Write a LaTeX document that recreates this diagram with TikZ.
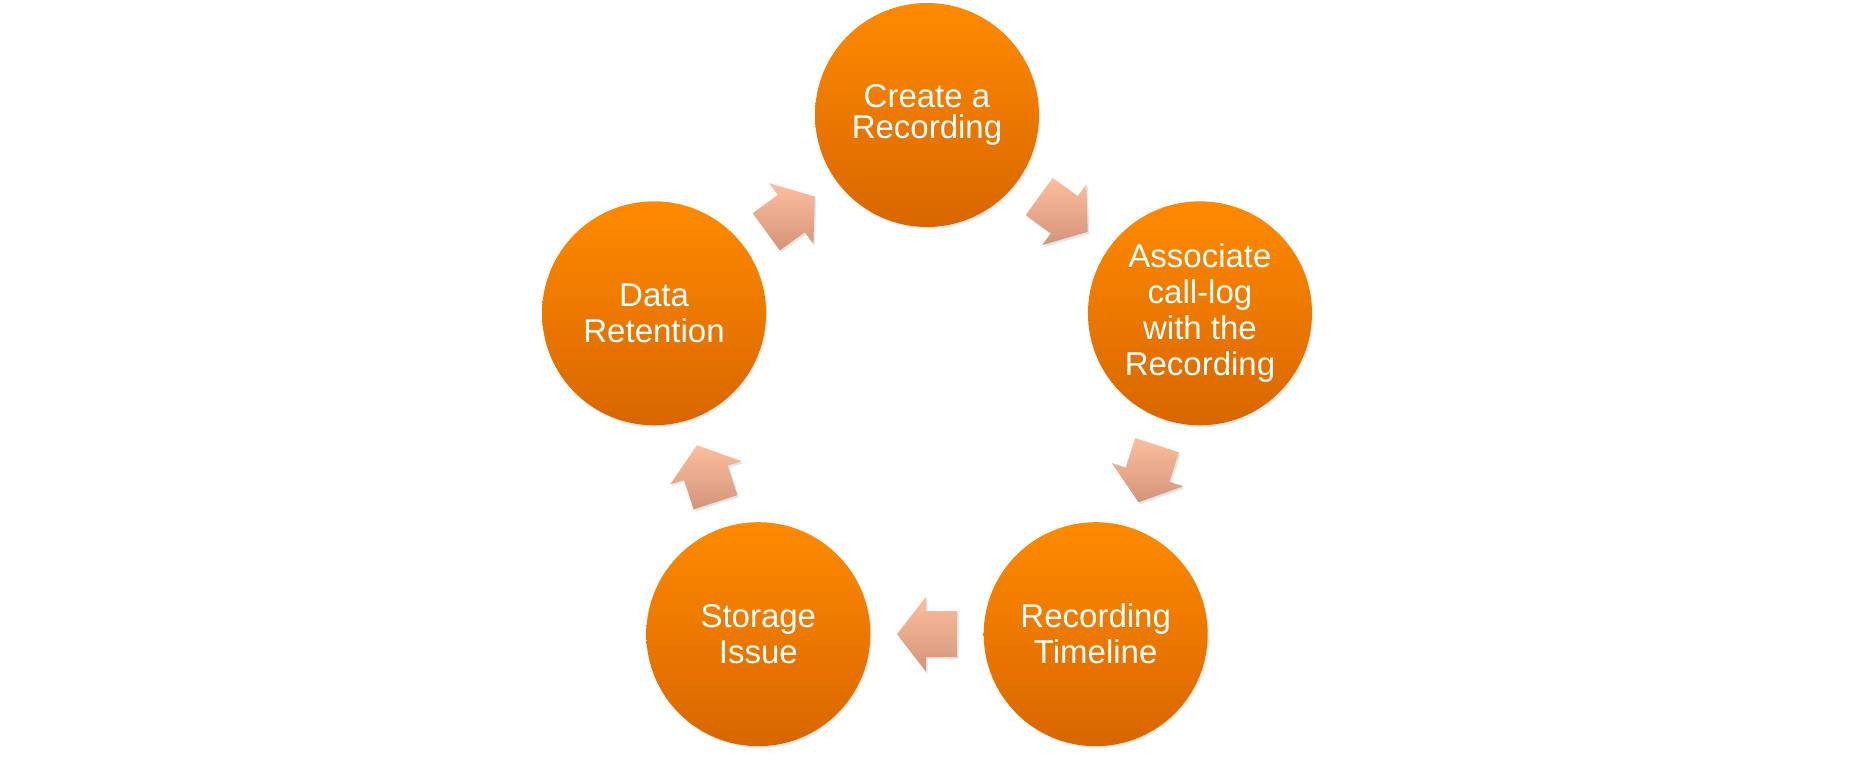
\documentclass[tikz,border=0pt]{standalone}
\usepackage{fontspec}
\setmainfont{Liberation Sans}
\usetikzlibrary{calc,shadows}
\definecolor{stagetop}{RGB}{255,138,0}
\definecolor{stagebot}{RGB}{216,102,0}
\definecolor{turntop}{RGB}{252,190,158}
\definecolor{turnbot}{RGB}{212,148,122}

\tikzset{
  stage/.style={circle, minimum size=224pt, inner sep=0pt, top color=stagetop, bottom color=stagebot,
    text=white, align=center, font=\fontsize{33}{36}\selectfont,
    drop shadow={opacity=0.15, shadow xshift=1.5pt, shadow yshift=-2pt}},
  turnshade/.style={top color=turntop, bottom color=turnbot,
    drop shadow={opacity=0.2, shadow xshift=1.5pt, shadow yshift=-2pt}},
  turn/.pic={
    \path[turnshade] (-30,-23) -- (1,-23) -- (1,-37.5) -- (30,0) -- (1,37.5) -- (1,23) -- (-30,23) -- cycle;
  }
}

\begin{document}
\begin{tikzpicture}[x=1pt, y=1pt]
  \useasboundingbox[fill=white] (0,0) rectangle (1855,757);
  \coordinate (hub) at (927,355);

  % the five stages
  \node[stage] (create) at ($(hub)+(90:287)$) {Create a\\[-5pt]Recording};
  \node[stage] (assoc) at ($(hub)+(18:287)$) {Associate\\call-log\\with the\\Recording};
  \node[stage] (timeline) at ($(hub)+(-54:287)$) {Recording\\Timeline};
  \node[stage] (storage) at ($(hub)+(-126:287)$) {Storage\\Issue};
  \node[stage] (retention) at ($(hub)+(162:287)$) {Data\\Retention};

  % arrows between them
  \foreach \from/\to/\dir in {create/assoc/-36, assoc/timeline/-108, timeline/storage/-180,
      storage/retention/108, retention/create/36}
    \pic[rotate=\dir] at ($(\from)!0.5!(\to)$) {turn};
\end{tikzpicture}
\end{document}
